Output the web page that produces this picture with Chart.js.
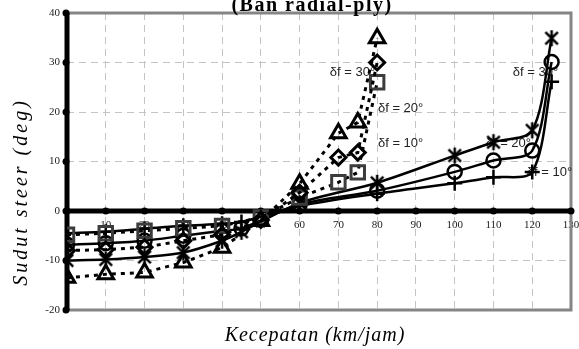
<!DOCTYPE html>
<html>
<head>
<meta charset="utf-8">
<script src="https://cdn.jsdelivr.net/npm/chart.js@4.4.1/dist/chart.umd.min.js"></script>
<style>
  html, body { margin: 0; padding: 0; background: #fff; }
  #wrap { width: 579px; height: 349px; }
</style>
</head>
<body>
<div id="wrap"><canvas id="chart" width="579" height="349"></canvas></div>
<script>
// Speeds (km/jam) for the dotted and the solid groups
const speedsDotted = [0, 10, 20, 30, 40, 50, 60, 70, 75, 80];
const speedsSolid = [0, 10, 20, 30, 40, 45, 60, 80, 100, 110, 120, 125];

// Steer angle (deg), dotted group
const dotted10 = [-4.8, -4.5, -4.0, -3.5, -3.0, -1.3, 2.7, 5.8, 7.8, 26.0];
const dotted20 = [-8.0, -7.8, -7.3, -6.0, -4.8, -1.8, 3.7, 10.8, 11.8, 30.0];
const dotted30 = [-13.5, -12.8, -12.4, -10.4, -7.4, -2.0, 5.5, 15.7, 17.9, 34.9];

// Steer angle (deg), solid group
const solid10 = [-4.5, -4.2, -3.6, -3.0, -2.6, -2.2, 1.0, 3.5, 5.6, 6.8, 7.9, 26.1];
const solid20 = [-6.8, -6.5, -6.0, -5.0, -4.0, -3.5, 1.3, 4.1, 7.9, 10.2, 12.2, 30.1];
const solid30 = [-10.0, -9.8, -9.3, -8.4, -6.0, -4.2, 1.6, 5.7, 11.2, 13.9, 16.3, 34.9];

// Ticks
const xTicks = [0, 10, 20, 30, 40, 50, 60, 70, 80, 90, 100, 110, 120, 130];
const yTicks = [-20, -10, 0, 10, 20, 30, 40];

// Curve labels: text with the data point where the text starts
const labelTexts = ['δf = 30°', 'δf = 20°', 'δf = 10°', 'δf = 30°', 'δf = 20°', 'δf = 10°'];
const labelX = [67.8, 80.2, 80.2, 115.0, 108.0, 118.6];
const labelY = [28.0, 20.7, 13.7, 28.0, 13.7, 7.8];

function pts(xs, ys) {
    return xs.map((x, i) => ({ x: x, y: ys[i] }));
}

// Excel-like asterisk marker (vertical bar plus X)
function makeStar(size, lw) {
    const c = document.createElement('canvas');
    c.width = size;
    c.height = size;
    const g = c.getContext('2d');
    const m = size / 2, r = size / 2 - 1, d = r * 0.78;
    g.strokeStyle = '#000';
    g.lineWidth = lw;
    g.beginPath();
    g.moveTo(m, m - r); g.lineTo(m, m + r);
    g.moveTo(m - d, m - d); g.lineTo(m + d, m + d);
    g.moveTo(m + d, m - d); g.lineTo(m - d, m + d);
    g.stroke();
    return c;
}
const starImg = makeStar(18, 2.5);

function dottedSet(data, style, radius, color) {
    return {
        data: pts(speedsDotted, data),
        borderColor: '#000',
        borderWidth: 3,
        borderDash: [4, 5],
        tension: 0,
        pointStyle: style,
        pointRadius: radius,
        pointBorderColor: color,
        pointBackgroundColor: 'rgba(0,0,0,0)',
        pointBorderWidth: 3
    };
}

function solidSet(data, style, radius) {
    return {
        data: pts(speedsSolid, data),
        borderColor: '#000',
        borderWidth: 2.5,
        tension: 0.3,
        pointStyle: style,
        pointRadius: radius,
        pointBorderColor: '#000',
        pointBackgroundColor: 'rgba(0,0,0,0)',
        pointBorderWidth: 2.5
    };
}

const framePlugin = {
    id: 'frame',
    beforeDatasetsDraw(chart) {
        const { ctx, chartArea: a, scales: { x, y } } = chart;
        ctx.save();
        // grey box on top, right and bottom
        ctx.strokeStyle = '#858585';
        ctx.lineWidth = 3;
        ctx.beginPath();
        ctx.moveTo(a.left, a.top);
        ctx.lineTo(a.right, a.top);
        ctx.lineTo(a.right, a.bottom);
        ctx.lineTo(a.left, a.bottom);
        ctx.stroke();

        // thick black axes
        const y0 = y.getPixelForValue(0);
        ctx.strokeStyle = '#000';
        ctx.lineWidth = 5;
        ctx.beginPath();
        ctx.moveTo(a.left, a.top);
        ctx.lineTo(a.left, a.bottom);
        ctx.moveTo(a.left, y0);
        ctx.lineTo(a.right, y0);
        ctx.stroke();

        ctx.fillStyle = '#000';
        yTicks.forEach(v => {
            ctx.beginPath();
            ctx.arc(a.left - 1, y.getPixelForValue(v), 3.5, 0, Math.PI * 2);
            ctx.fill();
        });
        xTicks.forEach(v => {
            ctx.beginPath();
            ctx.arc(x.getPixelForValue(v), y0, 3.5, 0, Math.PI * 2);
            ctx.fill();
        });

        // curve labels
        ctx.font = '13px "Liberation Sans", Arial, sans-serif';
        ctx.fillStyle = '#222';
        ctx.textAlign = 'left';
        ctx.textBaseline = 'middle';
        labelTexts.forEach((t, i) => {
            ctx.fillText(t, x.getPixelForValue(labelX[i]), y.getPixelForValue(labelY[i]));
        });
        ctx.restore();
    },
    afterDraw(chart) {
        const { ctx } = chart;
        ctx.save();
        ctx.fillStyle = '#000';
        ctx.textAlign = 'center';
        ctx.textBaseline = 'alphabetic';

        ctx.font = 'bold 20px "Liberation Serif", "Times New Roman", serif';
        ctx.letterSpacing = '1.5px';
        ctx.fillText('(Ban radial-ply)', 312, 11);

        ctx.font = 'italic 20px "Liberation Serif", "Times New Roman", serif';
        ctx.letterSpacing = '1px';
        ctx.fillText('Kecepatan (km/jam)', 315, 341);

        ctx.letterSpacing = '3px';
        ctx.translate(27, 192);
        ctx.rotate(-Math.PI / 2);
        ctx.fillText('Sudut steer (deg)', 0, 0);
        ctx.restore();
    }
};

const tickFont = { family: '"Liberation Serif", "Times New Roman", serif', size: 11 };

new Chart(document.getElementById('chart').getContext('2d'), {
    type: 'line',
    data: {
        datasets: [
            dottedSet(dotted30, 'triangle', 9, '#000'),
            dottedSet(dotted20, 'rectRot', 7.5, '#000'),
            dottedSet(dotted10, 'rect', 9.5, '#3c3c3c'),
            solidSet(solid30, starImg, 9),
            solidSet(solid20, 'circle', 7),
            solidSet(solid10, 'cross', 7.5)
        ]
    },
    options: {
        responsive: false,
        devicePixelRatio: 1,
        animation: false,
        layout: { autoPadding: false, padding: { top: 13, right: 8, bottom: 39, left: 0 } },
        plugins: {
            legend: { display: false },
            title: { display: false },
            tooltip: { enabled: false }
        },
        scales: {
            x: {
                type: 'linear',
                position: { y: 0 },
                min: 0,
                max: 130,
                afterBuildTicks: s => { s.ticks = xTicks.map(v => ({ value: v })); },
                afterFit: s => { s.paddingLeft = 0; s.paddingRight = 0; },
                ticks: {
                    callback: v => (v === 0 ? '' : v),
                    font: tickFont,
                    color: '#222',
                    padding: 8,
                    maxRotation: 0
                },
                grid: { color: '#c4c4c4', lineWidth: 1, drawTicks: false },
                border: { display: false, dash: [7, 5] }
            },
            y: {
                type: 'linear',
                min: -20,
                max: 40,
                afterBuildTicks: s => { s.ticks = yTicks.map(v => ({ value: v })); },
                afterFit: s => { s.width = 67; s.paddingTop = 0; s.paddingBottom = 0; },
                ticks: {
                    font: tickFont,
                    color: '#222',
                    padding: 7
                },
                grid: { color: '#c4c4c4', lineWidth: 1, drawTicks: false },
                border: { display: false, dash: [7, 5] }
            }
        }
    },
    plugins: [framePlugin]
});
</script>
</body>
</html>
